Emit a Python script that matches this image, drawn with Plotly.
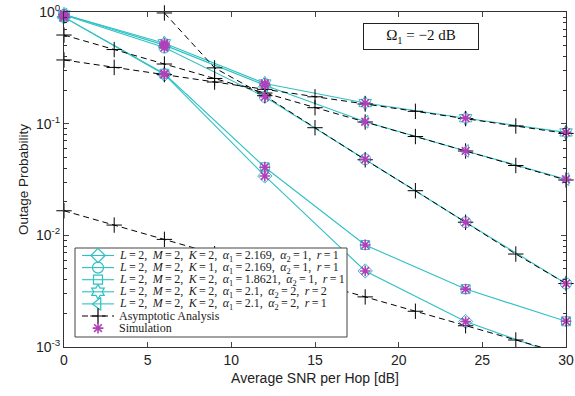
import plotly.graph_objects as go

# ---------------- data ----------------
snr = [0, 6, 12, 18, 24, 30]
snr_asym = [0, 3, 6, 9, 12, 15, 18, 21, 24, 27, 30]
snr_asym_k1 = [6, 9, 12, 15, 18, 21, 24, 27, 30]

out_diamond = [0.90, 0.276, 0.034, 0.0048, 0.00169, 0.00081]
out_circle = [0.94, 0.48, 0.174, 0.048, 0.0131, 0.0037]
out_square = [0.90, 0.28, 0.0407, 0.0082, 0.0033, 0.0017]
out_hexagram = [0.95, 0.525, 0.229, 0.153, 0.112, 0.0835]
out_triangle = [0.95, 0.505, 0.221, 0.104, 0.057, 0.0318]

asym_hexagram = [0.372, 0.319, 0.275, 0.236, 0.203, 0.174, 0.150, 0.129, 0.111, 0.0953, 0.0818]
asym_triangle = [0.622, 0.461, 0.342, 0.254, 0.188, 0.139, 0.1035, 0.0767, 0.0569, 0.0422, 0.0313]
asym_diamond = [0.0166, 0.01236, 0.0092, 0.00684, 0.00508, 0.00378, 0.00281, 0.00209, 0.00155, 0.001155, 0.00086]
asym_circle = [0.98, 0.316, 0.178, 0.092, 0.0475, 0.0251, 0.0131, 0.0068, 0.0037]

EQ = "\u2009=\u2009"
C = ",\u2009 "
labels = [
    f"<i>L</i>{EQ}2{C}<i>M</i>{EQ}2{C}<i>K</i>{EQ}2{C}<i>α</i><sub>1</sub>{EQ}2.169{C}<i>α</i><sub>2</sub>{EQ}1{C}<i>r</i>{EQ}1",
    f"<i>L</i>{EQ}2{C}<i>M</i>{EQ}2{C}<i>K</i>{EQ}1{C}<i>α</i><sub>1</sub>{EQ}2.169{C}<i>α</i><sub>2</sub>{EQ}1{C}<i>r</i>{EQ}1",
    f"<i>L</i>{EQ}2{C}<i>M</i>{EQ}2{C}<i>K</i>{EQ}2{C}<i>α</i><sub>1</sub>{EQ}1.8621{C}<i>α</i><sub>2</sub>{EQ}1{C}<i>r</i>{EQ}1",
    f"<i>L</i>{EQ}2{C}<i>M</i>{EQ}2{C}<i>K</i>{EQ}2{C}<i>α</i><sub>1</sub>{EQ}2.1{C}<i>α</i><sub>2</sub>{EQ}2{C}<i>r</i>{EQ}2",
    f"<i>L</i>{EQ}2{C}<i>M</i>{EQ}2{C}<i>K</i>{EQ}2{C}<i>α</i><sub>1</sub>{EQ}2.1{C}<i>α</i><sub>2</sub>{EQ}2{C}<i>r</i>{EQ}1",
]
asym_label = "Asymptotic Analysis"
sim_label = "Simulation"

x_ticks = [0, 5, 10, 15, 20, 25, 30]
y_tickvals = [1, 0.1, 0.01, 0.001]
y_ticktext = ["10<sup>0</sup>", "10<sup>-1</sup>", "10<sup>-2</sup>", "10<sup>-3</sup>"]
y_minor = [m * 10.0 ** e for e in (-3, -2, -1) for m in range(2, 10)]

# ---------------- style ----------------
CYAN = "#2fc0c4"
MAG = "#b040b8"
SERIF = "Liberation Serif, DejaVu Serif, serif"
SANS = "Liberation Sans, Arial, sans-serif"

fig = go.Figure()

curves = [
    (out_diamond, "diamond-open", 11),
    (out_circle, "circle-open", 11),
    (out_square, "square-open", 9),
    (out_hexagram, "hexagram-open", 11),
    (out_triangle, "triangle-left-open", 11),
]
for (vals, sym, sz), lab in zip(curves, labels):
    fig.add_trace(go.Scatter(
        x=snr, y=vals, mode="lines+markers", name=lab, showlegend=False,
        line=dict(color=CYAN, width=1.1),
        marker=dict(symbol=sym, size=sz, color=CYAN, line=dict(color=CYAN, width=1)),
        cliponaxis=False,
    ))

asyms = [
    (snr_asym, asym_diamond),
    (snr_asym_k1, asym_circle),
    (snr_asym, asym_hexagram),
    (snr_asym, asym_triangle),
]
for xs, vals in asyms:
    fig.add_trace(go.Scatter(
        x=xs, y=vals, mode="lines+markers", name=asym_label, showlegend=False,
        line=dict(color="black", width=1, dash="6px,4px"),
        marker=dict(symbol="cross-thin-open", size=11, color="black",
                    line=dict(color="black", width=1)),
        cliponaxis=False,
    ))

for vals, _, _ in curves:
    fig.add_trace(go.Scatter(
        x=snr, y=vals, mode="markers", name=sim_label, showlegend=False,
        marker=dict(symbol="asterisk-open", size=9, color=MAG,
                    line=dict(color=MAG, width=1.6)),
        cliponaxis=False,
    ))

# ---------------- custom legend (pixel-coordinate overlay axes) ----------------
LBOX = (75, 347, 248, 337)       # left, right, top, bottom (px)
ROW0, ROWSTEP = 255.5, 12.1
SYM_X0, SYM_X1, SYM_XC, TXT_X = 82, 114, 98, 117

bx0, bx1, by0, by1 = LBOX
fig.add_trace(go.Scatter(
    x=[bx0, bx1, bx1, bx0, bx0], y=[by0, by0, by1, by1, by0],
    xaxis="x2", yaxis="y2", mode="lines", fill="toself", fillcolor="white",
    line=dict(color="#444", width=1), hoverinfo="skip", showlegend=False,
))

leg_items = [(sym, sz, CYAN, "solid", lab) for (_, sym, sz), lab in zip(curves, labels)]
leg_items.append(("cross-thin-open", 11, "black", "dash", asym_label))
leg_items.append(("asterisk-open", 9, MAG, None, sim_label))

shapes = []
annos = []
for i, (sym, sz, col, dash, lab) in enumerate(leg_items):
    yc = ROW0 + ROWSTEP * i
    if dash is not None:
        shapes.append(dict(type="line", xref="x2", yref="y2", x0=SYM_X0, x1=SYM_X1,
                           y0=yc, y1=yc, layer="above",
                           line=dict(color=col, width=1.1 if dash == "solid" else 1,
                                     dash="solid" if dash == "solid" else "6px,4px")))
    fig.add_trace(go.Scatter(
        x=[SYM_XC], y=[yc], xaxis="x2", yaxis="y2", mode="markers",
        marker=dict(symbol=sym, size=sz, color=col,
                    line=dict(color=col, width=1.6 if col == MAG else 1.2)),
        hoverinfo="skip", showlegend=False, cliponaxis=False,
    ))
    annos.append(dict(x=TXT_X, y=yc, xref="x2", yref="y2", text=lab, showarrow=False,
                      xanchor="left", yanchor="middle",
                      font=dict(family=SERIF, size=12, color="#222")))

annos.append(dict(
    x=0.712, y=0.928, xref="paper", yref="paper",
    text="Ω<sub>1</sub> = −2 dB", showarrow=False,
    font=dict(family=SERIF, size=15, color="#111"),
    bordercolor="#222", borderwidth=1, bgcolor="white",
    width=112, height=23, xanchor="center", yanchor="middle",
))

fig.update_layout(
    width=575, height=396,
    margin=dict(l=64, r=9, t=12, b=49),
    paper_bgcolor="white", plot_bgcolor="white",
    showlegend=False,
    shapes=shapes,
    annotations=annos,
    xaxis=dict(
        range=[0, 30], tickvals=x_ticks, ticks="inside", ticklen=5,
        showline=True, linecolor="#333", linewidth=1, mirror="ticks",
        showgrid=False, zeroline=False, automargin=False,
        tickfont=dict(family=SANS, size=14, color="#222"),
        title=dict(text="Average SNR per Hop [dB]", font=dict(family=SANS, size=14, color="#222"), standoff=6),
    ),
    yaxis=dict(
        type="log", range=[-3, 0], tickvals=y_tickvals, ticktext=y_ticktext,
        ticks="inside", ticklen=5,
        minor=dict(tickvals=y_minor, ticks="inside", ticklen=3, tickcolor="#333", showgrid=False),
        showline=True, linecolor="#333", linewidth=1, mirror="ticks",
        showgrid=False, zeroline=False, automargin=False,
        tickfont=dict(family=SANS, size=14, color="#222"),
        title=dict(text="Outage Probability", font=dict(family=SANS, size=13.5, color="#222"), standoff=4),
    ),
    xaxis2=dict(overlaying="x", anchor="y2", range=[64, 566], visible=False, fixedrange=True),
    yaxis2=dict(overlaying="y", anchor="x2", range=[347, 12], visible=False, fixedrange=True),
)

fig.write_html(
    "out.html",
    config={"displayModeBar": False},
    post_script="document.body.style.margin='0';document.body.style.padding='0';",
)
